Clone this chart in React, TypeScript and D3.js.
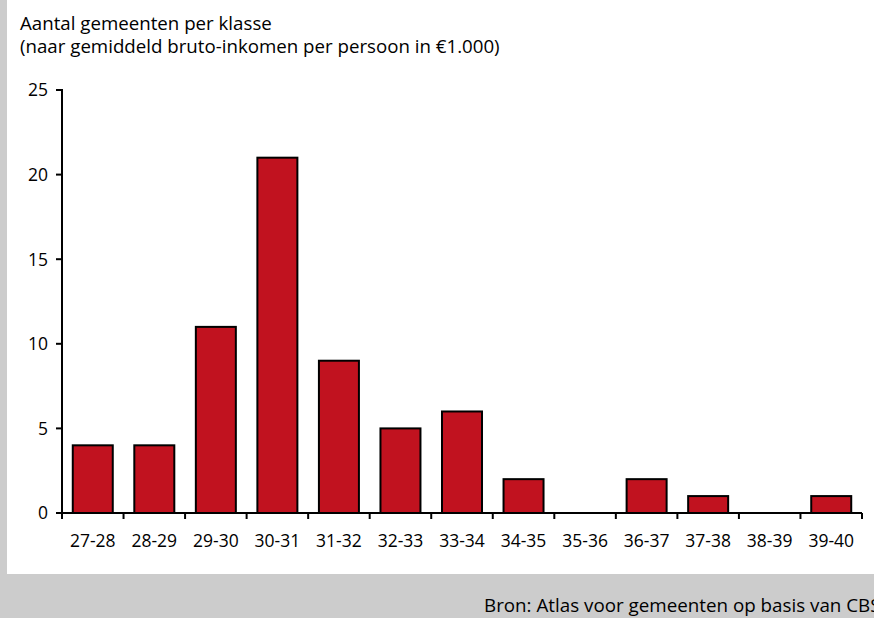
import React, { useRef, useEffect } from 'react'
import * as d3 from 'd3'

const categories = ['27-28', '28-29', '29-30', '30-31', '31-32', '32-33', '33-34', '34-35', '35-36', '36-37', '37-38', '38-39', '39-40']
const counts = [4, 4, 11, 21, 9, 5, 6, 2, 0, 2, 1, 0, 1]
const yTicks = [0, 5, 10, 15, 20, 25]

const titleLines = ['Aantal gemeenten per klasse', '(naar gemiddeld bruto-inkomen per persoon in €1.000)']
const sourceText = 'Bron: Atlas voor gemeenten op basis van CBS'

const W = 874
const H = 618
const FONT = '"Open Sans", "DejaVu Sans", sans-serif'

export default function App() {
  const svgRef = useRef<SVGSVGElement>(null)

  useEffect(() => {
    if (!svgRef.current) return
    const svg = d3.select(svgRef.current)
    svg.selectAll('*').remove()

    // achtergrond en grijze randen
    svg.append('rect').attr('width', W).attr('height', H).attr('fill', '#fff')
    svg.append('rect').attr('x', 0).attr('y', 0).attr('width', 7).attr('height', H).attr('fill', '#cccccc')
    svg.append('rect').attr('x', 0).attr('y', 574).attr('width', W).attr('height', H - 574).attr('fill', '#cccccc')

    const left = 62
    const right = 862
    const top = 90
    const bottom = 513

    const x = d3.scaleBand<string>().domain(categories).range([left, right]).paddingInner(0.35).paddingOuter(0.175)
    const y = d3.scaleLinear().domain([0, 25]).range([bottom, top])

    // titel
    svg.append('g')
      .selectAll('text')
      .data(titleLines)
      .enter()
      .append('text')
      .attr('x', 20)
      .attr('y', (d, i) => 30 + i * 23)
      .style('font-family', FONT)
      .style('font-size', '18.7px')
      .attr('fill', '#000')
      .text(d => d)

    // staven
    svg.append('g')
      .selectAll('rect')
      .data(counts.map((v, i) => ({ cat: categories[i], v })).filter(d => d.v > 0))
      .enter()
      .append('rect')
      .attr('x', d => x(d.cat)!)
      .attr('y', d => y(d.v))
      .attr('width', x.bandwidth())
      .attr('height', d => y(0) - y(d.v))
      .attr('fill', '#c1121f')
      .attr('stroke', '#000')
      .attr('stroke-width', 2)

    // y-as
    const yAxis = svg.append('g')
    yAxis.append('line')
      .attr('x1', left).attr('x2', left)
      .attr('y1', y(25) - 1).attr('y2', bottom)
      .attr('stroke', '#000').attr('stroke-width', 2)
    yAxis.selectAll('.tick')
      .data(yTicks)
      .enter()
      .append('line')
      .attr('x1', left - 6).attr('x2', left)
      .attr('y1', d => y(d)).attr('y2', d => y(d))
      .attr('stroke', '#000').attr('stroke-width', 2)
    yAxis.selectAll('text')
      .data(yTicks)
      .enter()
      .append('text')
      .attr('x', left - 14)
      .attr('y', d => y(d))
      .attr('dy', '0.36em')
      .attr('text-anchor', 'end')
      .style('font-family', FONT)
      .style('font-size', '17.5px')
      .text(d => d)

    // x-as
    const xAxis = svg.append('g')
    xAxis.append('line')
      .attr('x1', left).attr('x2', right)
      .attr('y1', bottom).attr('y2', bottom)
      .attr('stroke', '#000').attr('stroke-width', 2)
    const edges = categories.map((c, i) => left + i * x.step()).concat([right])
    xAxis.selectAll('.tick')
      .data(edges)
      .enter()
      .append('line')
      .attr('x1', d => d).attr('x2', d => d)
      .attr('y1', bottom).attr('y2', bottom + 6)
      .attr('stroke', '#000').attr('stroke-width', 2)
    xAxis.selectAll('text')
      .data(categories)
      .enter()
      .append('text')
      .attr('x', d => x(d)! + x.bandwidth() / 2)
      .attr('y', 547)
      .attr('text-anchor', 'middle')
      .style('font-family', FONT)
      .style('font-size', '17.5px')
      .text(d => d)

    // bron
    svg.append('text')
      .attr('x', 484)
      .attr('y', 612)
      .style('font-family', FONT)
      .style('font-size', '18.8px')
      .text(sourceText)
  }, [])

  return (
    <div style={{ position: 'fixed', left: 0, top: 0, width: W, height: H }}>
      <svg ref={svgRef} width={W} height={H} style={{ display: 'block' }} />
    </div>
  )
}
